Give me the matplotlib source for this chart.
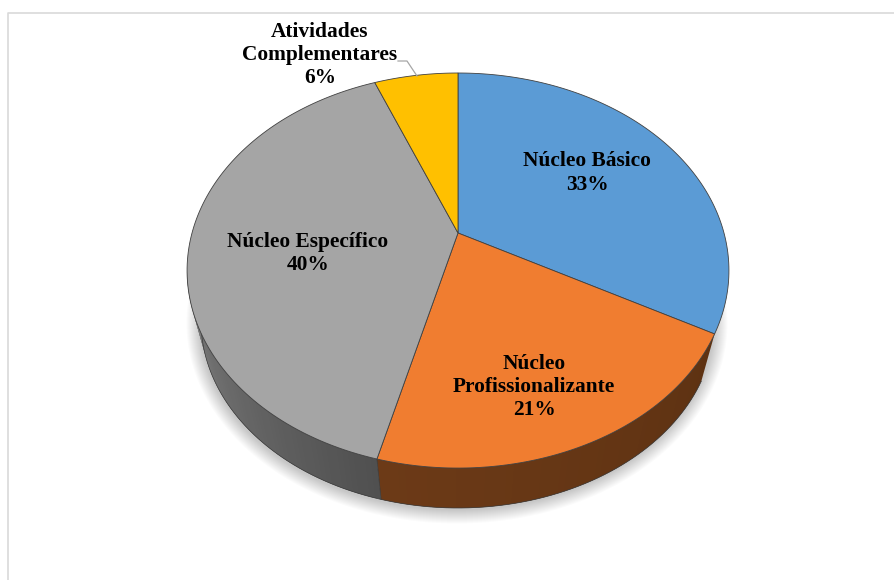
import numpy as np
import matplotlib
matplotlib.use("Agg")
import matplotlib.pyplot as plt

# Valores do gráfico
categorias = ["Núcleo Básico", "Núcleo\nProfissionalizante", "Núcleo Específico", "Atividades\nComplementares"]
valores = [33, 21, 40, 6]
cores_topo = ["#5B9BD5", "#F07D30", "#A5A5A5", "#FFC000"]
cores_lado = [None, ("#5E3212", "#6C3A17"), ("#505050", "#7E7E7E"), None]
pos_rotulos = [(587, 173), (534, 387), (308, 254), (320, 55)]

# Geometria do disco em perspectiva (pixels)
cx, cy = 458, 233
a, b, k = 266, 190.4, 0.19
rx2, ry2, cy2 = 257, 187, 321
ang_limite = 259  # extremo esquerdo; depois disso a lateral fica escondida

plt.rcParams["font.family"] = ["Liberation Serif", "DejaVu Serif"]
fig = plt.figure(figsize=(8.94, 5.8), dpi=100)
ax = fig.add_axes([0, 0, 1, 1])
ax.set_xlim(0, 894)
ax.set_ylim(580, 0)
ax.axis("off")

# Moldura (sem lado direito nem inferior visíveis)
ax.plot([7.5, 7.5, 894], [580, 12.5, 12.5], color="#D9D9D9", lw=1.2)


def projetar(theta, r=1.0):
    # theta em graus, sentido horário a partir do topo
    t = np.radians(theta)
    X, Y = r * np.sin(t), r * np.cos(t)
    d = 1 + k * Y
    return cx + a * X / d, cy - b * Y / d


def base_x(px):
    # ponto da borda inferior com mesmo ângulo (escala em torno do centro)
    return cx + (px - cx) * rx2 / 271


def base_y(bx):
    return cy2 + ry2 * np.sqrt(np.maximum(1 - ((bx - cx) / rx2) ** 2, 0))


acum = np.cumsum([0] + valores) / sum(valores) * 360

# Sombra difusa sob o disco
tt = np.linspace(0, 2 * np.pi, 361)
for i in range(14):
    off = 0.5 + i * 1.0
    ax.fill(cx - 1 + (rx2 + off) * np.cos(tt), cy2 + 2 + (ry2 + off) * np.sin(tt),
            color="black", alpha=0.017, lw=0, zorder=1)

# Lateral do disco, em tiras para o gradiente
for ini, fim, cores in zip(acum[:-1], acum[1:], cores_lado):
    if cores is None:
        continue
    angs = np.linspace(ini, min(fim, ang_limite), 60)
    c1_rgb = np.array(matplotlib.colors.to_rgb(cores[0]))
    c2_rgb = np.array(matplotlib.colors.to_rgb(cores[1]))
    for j in range(len(angs) - 1):
        fatia = angs[j:j + 3]
        px, py = projetar(fatia)
        bx = base_x(px)
        by = base_y(bx)
        f = j / (len(angs) - 2)
        cor = c1_rgb + (c2_rgb - c1_rgb) * f
        ax.fill(np.r_[px, bx[::-1]], np.r_[py, by[::-1]], color=cor, lw=0, zorder=2)

# Contorno inferior
xb = base_x(projetar(np.linspace(acum[1], ang_limite, 200))[0])
ax.plot(xb, base_y(xb), color="#3A3A3A", lw=0.5, zorder=3)

# Face superior
for ini, fim, cor in zip(acum[:-1], acum[1:], cores_topo):
    angs = np.linspace(ini, fim, 120)
    px, py = projetar(angs)
    ax.fill(np.r_[cx, px], np.r_[cy, py], facecolor=cor, edgecolor="#404040", lw=0.6, zorder=4)

# Divisão na lateral entre cinza e laranja
xd, yd = projetar(acum[2])
bxd = base_x(xd)
ax.plot([xd, bxd], [yd, base_y(bxd)], color="#3A3A3A", lw=0.5, zorder=3)

# Linha de chamada
ax.plot([398, 407, 417], [61, 61, 76], color="#A6A6A6", lw=0.9, zorder=5)

# Rótulos
for nome, v, (tx, ty) in zip(categorias, valores, pos_rotulos):
    ax.text(tx, ty, f"{nome}\n{v}%", ha="center", va="center", fontsize=15.4,
            fontweight="bold", color="black", linespacing=1.2, zorder=6)

fig.savefig("out.png", dpi=100)
